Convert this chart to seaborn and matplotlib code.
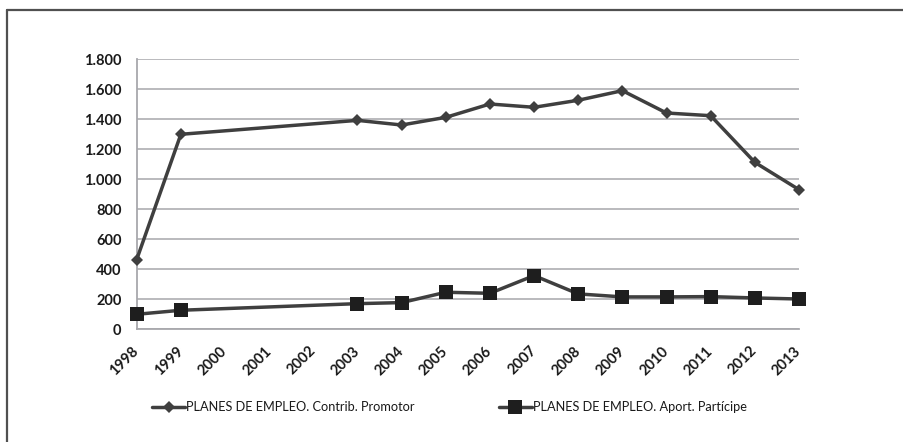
import numpy as np
import pandas as pd
import matplotlib
matplotlib.use("Agg")
import matplotlib.pyplot as plt
import matplotlib.ticker as mticker
from matplotlib.lines import Line2D
import seaborn as sns

years = [1998, 1999, 2000, 2001, 2002, 2003, 2004, 2005, 2006, 2007, 2008, 2009, 2010, 2011, 2012, 2013]
promotor = [465, 1300, None, None, None, 1393, 1362, 1413, 1502, 1480, 1527, 1591, 1442, 1424, 1113, 931]
participe = [100, 127, None, None, None, 171, 178, 247, 240, 358, 236, 216, 216, 218, 209, 202]
label_promotor = "PLANES DE EMPLEO. Contrib. Promotor"
label_participe = "PLANES DE EMPLEO. Aport. Partícipe"
y_ticks = [0, 200, 400, 600, 800, 1000, 1200, 1400, 1600, 1800]

sns.set_theme(style="white")
plt.rcParams['font.family'] = ['Lato', 'DejaVu Sans']

df = pd.DataFrame({"year": years, "promotor": promotor, "participe": participe}).astype(float)

fig = plt.figure(figsize=(9.04, 4.42), dpi=100)
ax = fig.add_axes([136.7/904, 112.7/442, (799-136.7)/904, (329.3-59.3)/442])

line_color = "#3f3f3f"
sns.lineplot(data=df.dropna(subset=["promotor"]), x="year", y="promotor", ax=ax,
             color=line_color, linewidth=2.5, marker="D", markersize=6,
             markeredgewidth=0, label=label_promotor, clip_on=False)
sns.lineplot(data=df.dropna(subset=["participe"]), x="year", y="participe", ax=ax,
             color=line_color, linewidth=2.5, marker="s", markersize=10,
             markerfacecolor="#1e1e1e", markeredgewidth=0, label=label_participe,
             clip_on=False)
for ln in ax.get_lines():
    ln.set_zorder(5)

ax.set_xlim(years[0], years[-1])
ax.set_ylim(0, 1800)
ax.set_xticks(years)
ax.set_xticklabels([str(y) for y in years])
ax.set_yticks(y_ticks)
ax.yaxis.set_major_formatter(mticker.FuncFormatter(lambda v, p: f"{int(v):,}".replace(",", ".")))
ax.set_xlabel("")
ax.set_ylabel("")

ax.grid(axis="y", color="#b4b4b8", linewidth=1.3)
ax.grid(axis="x", visible=False)
for s in ["top", "right"]:
    ax.spines[s].set_visible(False)
for s in ["left", "bottom"]:
    ax.spines[s].set_visible(True)
    ax.spines[s].set_color("#a8a8ac")
    ax.spines[s].set_linewidth(1.3)
ax.set_axisbelow(True)

ax.tick_params(axis="y", length=0, pad=11, labelsize=10.5, labelcolor="#1a1a1a")
ax.tick_params(axis="x", length=0, pad=14, labelsize=10.5, labelcolor="#1a1a1a")
for lbl in ax.get_yticklabels():
    lbl.set_fontweight("bold")
for lbl in ax.get_xticklabels():
    lbl.set_rotation(45)
    lbl.set_ha("right")
    lbl.set_va("center")
    lbl.set_rotation_mode("anchor")
    lbl.set_fontweight("bold")

handles = [
    Line2D([], [], color=line_color, linewidth=2.5, marker="D", markersize=6, markeredgewidth=0),
    Line2D([], [], color=line_color, linewidth=2.5, marker="s", markersize=10,
           markerfacecolor="#1e1e1e", markeredgewidth=0),
]
leg = fig.legend(handles, [label_promotor, label_participe], loc="center left",
                 bbox_to_anchor=(152/904, 1 - 407/442), ncol=2, frameon=False,
                 fontsize=9.2, handlelength=2.6, handletextpad=0.05,
                 columnspacing=6.6, borderaxespad=0, borderpad=0)
for t in leg.get_texts():
    t.set_color("#1a1a1a")
if ax.get_legend() is not None:
    ax.get_legend().remove()

# outer frame
fig.add_artist(Line2D([7/904, 7/904], [0, 1 - 10/442], transform=fig.transFigure,
                      color="#505050", linewidth=1.6))
fig.add_artist(Line2D([7/904, 1], [1 - 10/442, 1 - 10/442], transform=fig.transFigure,
                      color="#505050", linewidth=1.6))

fig.savefig("out.png", dpi=100, facecolor="white")
